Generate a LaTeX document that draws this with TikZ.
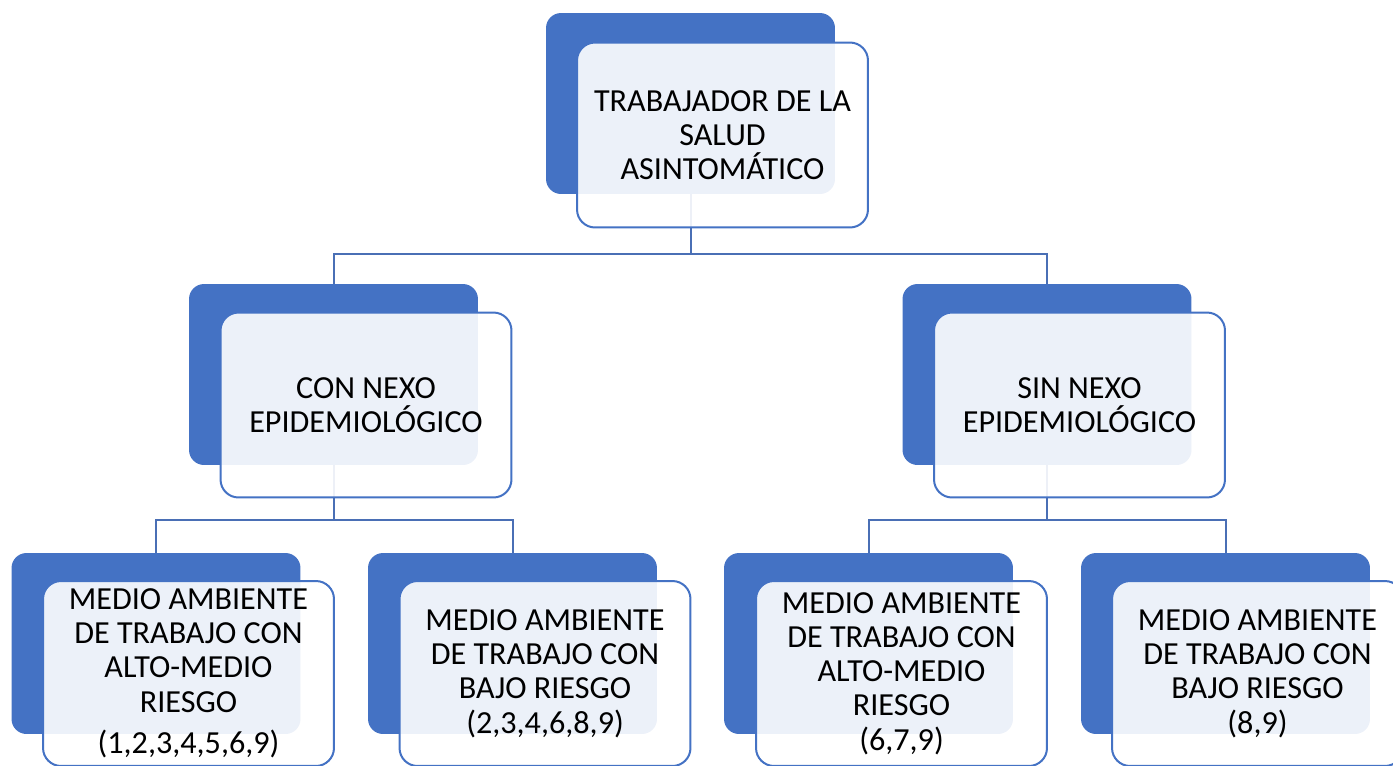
\documentclass[tikz,border=0pt]{standalone}
\usepackage{fontspec}
\setmainfont{Carlito}
\definecolor{boxblue}{HTML}{4472C4}
\definecolor{linkblue}{HTML}{4A6FB5}
\tikzset{
    backbox/.style={fill=boxblue, rounded corners=0.3cm, inner sep=0pt,
        minimum width=5.78cm, minimum height=3.62cm},
    frontbox/.style={draw=boxblue, line width=0.04cm, fill=white, fill opacity=0.9,
        text opacity=1, rounded corners=0.36cm, inner sep=0pt, align=center,
        minimum width=5.82cm, minimum height=3.70cm,
        font=\fontsize{18.3}{19.5}\selectfont},
    link/.style={draw=linkblue, line width=0.04cm}
}
\begin{document}
\begin{tikzpicture}[x=0.02cm, y=-0.02cm]
        % Page size and clipping
        \useasboundingbox (0,0) rectangle (1393,765);
        \clip (0,0) rectangle (1393,765);
        % Draw dark back boxes
        \node[backbox] (topb) at (690.5,103.5) {};
        \node[backbox] (conb) at (333.5,374.5) {};
        \node[backbox] (sinb) at (1047,374.5) {};
        \node[backbox] (conaltob) at (156,643.5) {};
        \node[backbox] (conbajob) at (512.5,643.5) {};
        \node[backbox] (sinaltob) at (868.5,643.5) {};
        \node[backbox] (sinbajob) at (1225.5,643.5) {};
        % Draw connectors
        \draw[link] (topb.south) -- ++(0,60) -| (conb.north);
        \draw[link] (topb.south) -- ++(0,60) -| (sinb.north);
        \draw[link] (conb.south) -- ++(0,55) -| (conaltob.north);
        \draw[link] (conb.south) -- ++(0,55) -| (conbajob.north);
        \draw[link] (sinb.south) -- ++(0,55) -| (sinaltob.north);
        \draw[link] (sinb.south) -- ++(0,55) -| (sinbajob.north);
        % Draw front boxes with text
        \node[frontbox] (top) at (722.5,135) {TRABAJADOR DE LA\\SALUD\\ASINTOMÁTICO};
        \node[frontbox] (con) at (366,405) {CON NEXO\\EPIDEMIOLÓGICO};
        \node[frontbox] (sin) at (1079.5,405) {SIN NEXO\\EPIDEMIOLÓGICO};
        \node[frontbox] (conalto) at (188.5,673.5) {MEDIO AMBIENTE\\DE TRABAJO CON\\ALTO-MEDIO\\RIESGO\\[0.15cm](1,2,3,4,5,6,9)};
        \node[frontbox] (conbajo) at (545,673.5) {MEDIO AMBIENTE\\DE TRABAJO CON\\BAJO RIESGO\\(2,3,4,6,8,9)};
        \node[frontbox] (sinalto) at (901.5,673.5) {MEDIO AMBIENTE\\DE TRABAJO CON\\ALTO-MEDIO\\RIESGO\\(6,7,9)};
        \node[frontbox] (sinbajo) at (1257.5,673.5) {MEDIO AMBIENTE\\DE TRABAJO CON\\BAJO RIESGO\\(8,9)};
    \end{tikzpicture}
\end{document}
